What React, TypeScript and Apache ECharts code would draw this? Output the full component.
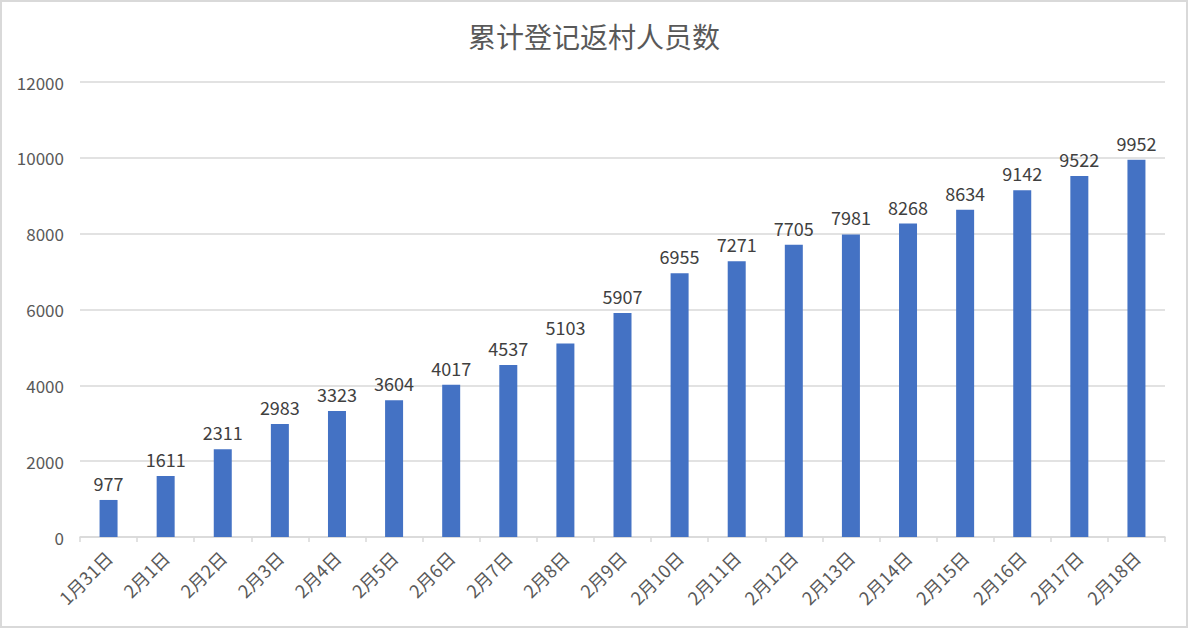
import React, { useEffect, useRef } from "react";
import * as echarts from "echarts";

const categories = ["1月31日","2月1日","2月2日","2月3日","2月4日","2月5日","2月6日","2月7日","2月8日","2月9日","2月10日","2月11日","2月12日","2月13日","2月14日","2月15日","2月16日","2月17日","2月18日"];
const values = [977,1611,2311,2983,3323,3604,4017,4537,5103,5907,6955,7271,7705,7981,8268,8634,9142,9522,9952];
const title = "累计登记返村人员数";

export default function App() {
  const ref = useRef<HTMLDivElement>(null);
  useEffect(() => {
    document.body.style.margin = "0";
    const chart = echarts.init(ref.current!, null, { renderer: "svg" });
    const font = "'Microsoft YaHei', 'Noto Sans CJK SC', sans-serif";
    chart.setOption({
      animation: false,
      textStyle: { fontFamily: font },
      title: {
        text: title,
        left: "center",
        top: 15,
        textStyle: { fontSize: 28, fontWeight: "normal", color: "#595959", fontFamily: font },
      },
      grid: { left: 78, right: 21, top: 80, bottom: 89, containLabel: false },
      xAxis: {
        type: "category",
        data: categories,
        axisLine: { lineStyle: { color: "#d9d9d9", width: 1.5 } },
        axisTick: { show: true, length: 5, lineStyle: { color: "#d9d9d9", width: 1.5 } },
        axisLabel: { rotate: 45, color: "#595959", fontSize: 18, margin: 17, fontFamily: font },
      },
      yAxis: {
        type: "value",
        min: 0,
        max: 12000,
        interval: 2000,
        axisLine: { show: false },
        axisTick: { show: false },
        axisLabel: { color: "#595959", fontSize: 17, margin: 16, fontFamily: font, formatter: (v: number) => String(v) },
        splitLine: { lineStyle: { color: "#d9d9d9", width: 1.5 } },
      },
      series: [
        {
          type: "bar",
          data: values,
          barWidth: 18,
          itemStyle: { color: "#4472C4" },
          label: { show: true, position: "top", color: "#404040", fontSize: 18, distance: 8, fontFamily: font },
        },
      ],
    });
    return () => chart.dispose();
  }, []);
  return (
    <div
      style={{
        position: "fixed",
        left: 0,
        top: 0,
        width: 1188,
        height: 628,
        boxSizing: "border-box",
        border: "2px solid #d9d9d9",
        background: "#fff",
      }}
    >
      <div ref={ref} style={{ width: 1184, height: 624 }} />
    </div>
  );
}
